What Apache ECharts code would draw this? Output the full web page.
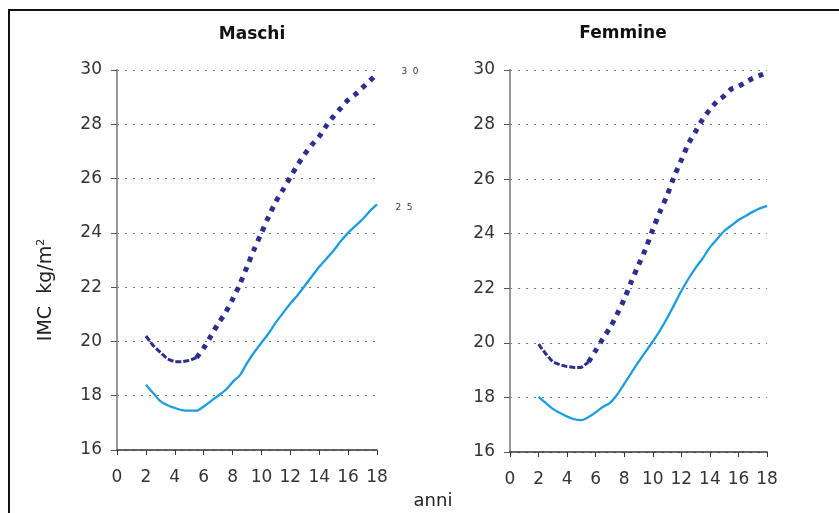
<!DOCTYPE html>
<html>
<head>
<meta charset="utf-8">
<script src="https://cdn.jsdelivr.net/npm/echarts@6/dist/echarts.min.js"></script>
<style>
html,body{margin:0;padding:0;background:#fff;}
#c{width:839px;height:513px;}
</style>
</head>
<body>
<div id="c"></div>
<script>
var ages = [2,2.5,3,3.5,4,4.5,5,5.5,6,6.5,7,7.5,8,8.5,9,9.5,10,10.5,11,11.5,12,12.5,13,13.5,14,14.5,15,15.5,16,16.5,17,17.5,18];
var maschi30 = [20.2,19.85,19.6,19.35,19.25,19.25,19.3,19.4,19.75,20.2,20.65,21.05,21.55,22.1,22.75,23.4,24.0,24.6,25.15,25.6,26.05,26.5,26.9,27.25,27.55,27.95,28.3,28.6,28.9,29.1,29.35,29.6,29.85];
var maschi25 = [18.4,18.1,17.8,17.65,17.55,17.47,17.45,17.45,17.6,17.8,18.0,18.2,18.5,18.75,19.2,19.6,19.95,20.3,20.7,21.05,21.4,21.7,22.05,22.4,22.75,23.05,23.35,23.7,24.0,24.25,24.5,24.8,25.05];
var femmine30 = [19.95,19.6,19.3,19.2,19.13,19.1,19.1,19.3,19.72,20.15,20.55,21.05,21.6,22.25,22.85,23.45,24.15,24.8,25.4,26.1,26.7,27.3,27.75,28.2,28.55,28.85,29.05,29.3,29.4,29.55,29.7,29.8,29.9];
var femmine25 = [18.02,17.8,17.58,17.43,17.3,17.2,17.17,17.28,17.45,17.65,17.8,18.1,18.5,18.9,19.3,19.68,20.05,20.45,20.9,21.4,21.9,22.35,22.75,23.1,23.5,23.8,24.1,24.3,24.5,24.65,24.8,24.93,25.02];
var titles = ['Maschi','Femmine'];
var yNameMain = 'IMC  kg/m';
var yNameSup = '2';
var xName = 'anni';
var tagsMaschi = ['3  0','2  5'];

function pairs(xs, ys, from, to){
  var out=[];
  for(var i=0;i<xs.length;i++){ if(xs[i]>=from && xs[i]<=to) out.push([xs[i],ys[i]]); }
  return out;
}

var chart = echarts.init(document.getElementById('c'));
var font = 'DejaVu Sans, Verdana, sans-serif';
var dark = '#2e2e8f', light = '#1b9de0';

function xAx(i){
  return {type:'value',gridIndex:i,min:0,max:18,interval:2,
    axisLine:{show:true,lineStyle:{color:'#333',width:1.5}},
    axisTick:{show:true,length:5,lineStyle:{color:'#333'}},
    axisLabel:{color:'#333',fontSize:17,fontFamily:font,margin:19},
    splitLine:{show:false}};
}
function yAx(i){
  return {type:'value',gridIndex:i,min:16,max:30,interval:2,
    axisLine:{show:true,lineStyle:{color:'#999',width:2}},
    axisTick:{show:true,length:6,lineStyle:{color:'#555'}},
    axisLabel:{color:'#333',fontSize:17,fontFamily:font,margin:15},
    splitLine:{show:true,lineStyle:{type:[2,6],color:'#777',width:1}}};
}
function lines(xi, d30, d25){
  return [
    {type:'line',xAxisIndex:xi,yAxisIndex:xi,data:pairs(ages,d30,2,5.5),showSymbol:false,
      lineStyle:{color:dark,width:3,type:[6,2]},z:3},
    {type:'line',xAxisIndex:xi,yAxisIndex:xi,data:pairs(ages,d30,5.5,18),showSymbol:false,smooth:0.3,
      lineStyle:{color:dark,width:5,type:[5,6]},z:3},
    {type:'line',xAxisIndex:xi,yAxisIndex:xi,data:pairs(ages,d25,2,18),showSymbol:false,smooth:0.3,
      lineStyle:{color:light,width:2.3},z:3}
  ];
}

chart.setOption({
  animation:false,
  backgroundColor:'#fff',
  title:[
    {text:titles[0],left:247,top:21,textAlign:'center',textStyle:{fontSize:17,fontWeight:'bold',color:'#111',fontFamily:font}},
    {text:titles[1],left:618,top:20,textAlign:'center',textStyle:{fontSize:17,fontWeight:'bold',color:'#111',fontFamily:font}}
  ],
  grid:[
    {left:117,top:70,width:260,height:380},
    {left:510,top:70,width:257,height:382}
  ],
  xAxis:[xAx(0),xAx(1)],
  yAxis:[yAx(0),yAx(1)],
  series:[].concat(lines(0,maschi30,maschi25),lines(1,femmine30,femmine25)),
  graphic:[
    {type:'rect',shape:{x:9,y:10,width:900,height:600},style:{fill:'none',stroke:'#111',lineWidth:2},silent:true},
    {type:'text',x:46,y:290,rotation:Math.PI/2,
      style:{text:'{a|'+yNameMain+'}{b|'+yNameSup+'}',textAlign:'center',textVerticalAlign:'middle',
        rich:{a:{fontSize:19,fill:'#222',fontFamily:font},b:{fontSize:11,fill:'#222',fontFamily:font,padding:[0,0,10,0]}}}},
    {type:'text',x:433,y:501,style:{text:xName,fontSize:18,fill:'#222',fontFamily:font,textAlign:'center',textVerticalAlign:'middle'}},
    {type:'text',x:410,y:72,style:{text:tagsMaschi[0],fontSize:9,fill:'#333',fontFamily:font,textAlign:'center',textVerticalAlign:'middle'}},
    {type:'text',x:404,y:208,style:{text:tagsMaschi[1],fontSize:9,fill:'#333',fontFamily:font,textAlign:'center',textVerticalAlign:'middle'}}
  ]
});
</script>
</body>
</html>
